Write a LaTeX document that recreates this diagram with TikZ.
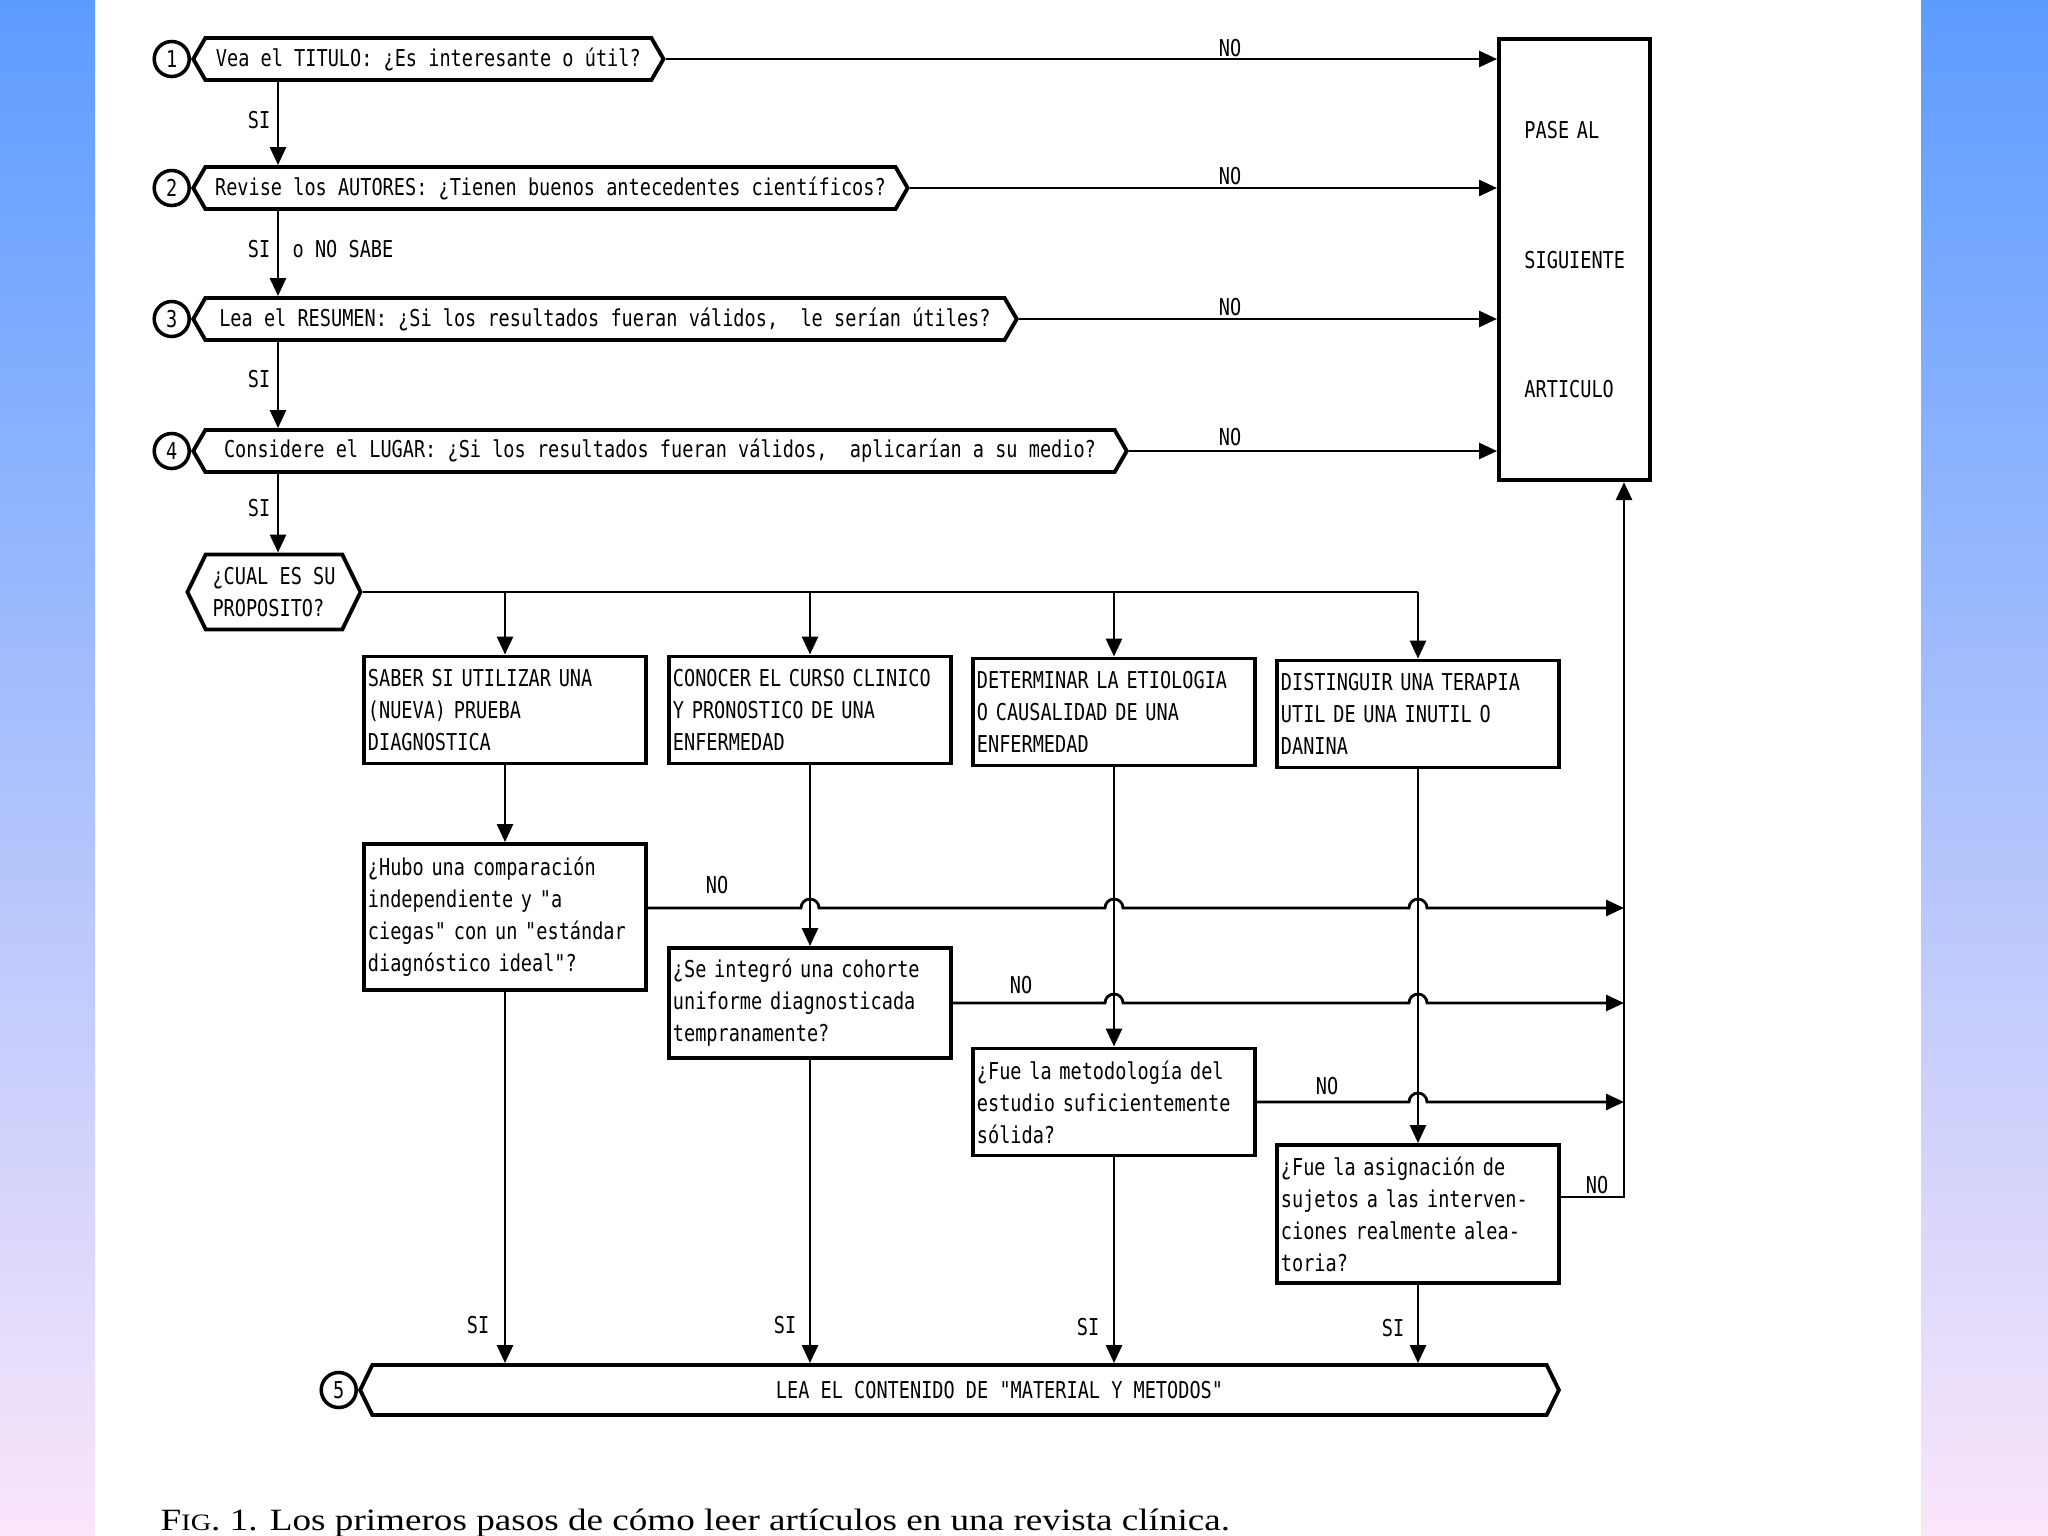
\documentclass[tikz,border=0pt]{standalone}
\usepackage{fontspec}
\newfontfamily\dotfont[FakeStretch=0.8]{DejaVu Sans Mono}
\newfontfamily\capfont[FakeStretch=1.2]{Liberation Serif}
\usetikzlibrary{positioning,calc,arrows.meta,shapes.symbols}

\definecolor{bandtop}{HTML}{5C9CFF}
\definecolor{bandmid}{HTML}{A8BCFF}
\definecolor{bandbot}{HTML}{FAE6FA}

\tikzset{
    dot/.style={font=\dotfont\fontsize{6.6}{9.1}\selectfont},
    hexa/.style={dot, draw, line width=1.1pt, shape=signal, signal to=west and east,
        signal pointer angle=120, minimum height=0.42cm, inner sep=1pt, anchor=west},
    num/.style={dot, draw, circle, line width=1pt, minimum size=0.35cm, inner sep=0pt},
    caja/.style={dot, draw, line width=1.1pt, rectangle, text width=2.74cm,
        align=left, inner xsep=0.04cm, inner ysep=0pt},
    flecha/.style={line width=0.8pt, -{Triangle[length=0.18cm,width=0.16cm]}},
    linea/.style={line width=0.8pt}
}

\begin{document}
\begin{tikzpicture}[x=0.01cm,y=-0.01cm]
    % Background
    \useasboundingbox (0,0) rectangle (2048,1536);
    \fill[white] (0,0) rectangle (2048,1536);
    \shade[top color=bandtop, middle color=bandmid, bottom color=bandbot] (0,0) rectangle (95,1536);
    \shade[top color=bandtop, middle color=bandmid, bottom color=bandbot] (1921,0) rectangle (2048,1536);
    % First steps
    \node[hexa, minimum width=4.70cm] (h1) at (191,59) {Vea el TITULO: ¿Es interesante o útil?};
    \node[hexa, minimum width=7.14cm] (h2) at (191,188) {Revise los AUTORES: ¿Tienen buenos antecedentes científicos?};
    \node[hexa, minimum width=8.23cm] (h3) at (191,319) {Lea el RESUMEN: ¿Si los resultados fueran válidos,\ \ le serían útiles?};
    \node[hexa, minimum width=9.33cm] (h4) at (191,451) {Considere el LUGAR: ¿Si los resultados fueran válidos,\ \ aplicarían a su medio?};
    \node[num, left=0pt of h1.west] (n1) {1};
    \node[num, left=0pt of h2.west] (n2) {2};
    \node[num, left=0pt of h3.west] (n3) {3};
    \node[num, left=0pt of h4.west] (n4) {4};
    % Next article
    \node[dot, draw, line width=1.1pt, anchor=north west, minimum width=1.51cm, minimum height=4.41cm,
        text width=1.0cm, inner xsep=0.255cm, align=left] (pase) at (1497,37)
        {PASE AL\\[27.8pt]SIGUIENTE\\[27.8pt]ARTICULO};
    \foreach \h in {h1,h2,h3,h4}
        \draw[flecha] (\h.east) -- (\h.east -| pase.west);
    \node[dot] (no1) at (1230,48) {NO};
    \node[dot] (no2) at (1230,176) {NO};
    \node[dot] (no3) at (1230,307) {NO};
    \node[dot] (no4) at (1230,437) {NO};
    % Purpose
    \node[hexa, signal pointer angle=128, minimum width=1.73cm, minimum height=0.75cm,
        align=left, anchor=center] (cual) at (274,592) {¿CUAL ES SU\\PROPOSITO?};
    \coordinate (trunk) at (278,0);
    \draw[flecha] (h1.south -| trunk) -- (h2.north -| trunk);
    \draw[flecha] (h2.south -| trunk) -- (h3.north -| trunk);
    \draw[flecha] (h3.south -| trunk) -- (h4.north -| trunk);
    \draw[flecha] (h4.south -| trunk) -- (cual.north -| trunk);
    \node[dot] (si1) at (259,120) {SI};
    \node[dot] (si2) at (259,249) {SI};
    \node[dot] (nosabe) at (343,249) {o NO SABE};
    \node[dot] (si3) at (259,379) {SI};
    \node[dot] (si4) at (259,508) {SI};
    % Purposes
    \node[caja, minimum height=1.07cm] (bA) at (505,710) {SABER SI UTILIZAR UNA\\(NUEVA) PRUEBA\\DIAGNOSTICA};
    \node[caja, minimum height=1.07cm] (bB) at (810,710) {CONOCER EL CURSO CLINICO\\Y PRONOSTICO DE UNA\\ENFERMEDAD};
    \node[caja, minimum height=1.07cm] (bC) at (1114,712) {DETERMINAR LA ETIOLOGIA\\O CAUSALIDAD DE UNA\\ENFERMEDAD};
    \node[caja, minimum height=1.07cm] (bD) at (1418,714) {DISTINGUIR UNA TERAPIA\\UTIL DE UNA INUTIL O\\DANINA};
    \draw[linea] (cual.east) -- (cual.east -| bD.north);
    \foreach \b in {bA,bB,bC,bD}
        \draw[flecha] (cual.east -| \b.north) -- (\b.north);
    % Questions
    \node[caja, minimum height=1.46cm] (hA) at (505,917) {¿Hubo una comparación\\independiente y "a\\ciegas" con un "estándar\\diagnóstico ideal"?};
    \node[caja, minimum height=1.10cm] (hB) at (810,1003) {¿Se integró una cohorte\\uniforme diagnosticada\\tempranamente?};
    \node[caja, minimum height=1.07cm] (hC) at (1114,1102) {¿Fue la metodología del\\estudio suficientemente\\sólida?};
    \node[caja, minimum height=1.38cm] (hD) at (1418,1214) {¿Fue la asignación de\\sujetos a las interven-\\ciones realmente alea-\\toria?};
    \foreach \b/\q in {bA/hA,bB/hB,bC/hC,bD/hD}
        \draw[flecha] (\b.south) -- (\q.north);
    % NO answers
    \coordinate (colx) at (1624,0);
    \coordinate (nA) at ([yshift=0.09cm]hA.east);
    \coordinate (nB) at (hB.east);
    \coordinate (nC) at (hC.east);
    \coordinate (nD) at ([yshift=0.17cm]hD.east);
    \draw[flecha] (nA) -- ($(nA -| bB.south)+(-9,0)$) arc[start angle=180,end angle=0,radius=0.09cm]
        -- ($(nA -| bC.south)+(-9,0)$) arc[start angle=180,end angle=0,radius=0.09cm]
        -- ($(nA -| bD.south)+(-9,0)$) arc[start angle=180,end angle=0,radius=0.09cm]
        -- (nA -| colx);
    \draw[flecha] (nB) -- ($(nB -| bC.south)+(-9,0)$) arc[start angle=180,end angle=0,radius=0.09cm]
        -- ($(nB -| bD.south)+(-9,0)$) arc[start angle=180,end angle=0,radius=0.09cm]
        -- (nB -| colx);
    \draw[flecha] (nC) -- ($(nC -| bD.south)+(-9,0)$) arc[start angle=180,end angle=0,radius=0.09cm]
        -- (nC -| colx);
    \draw[flecha] (nD) -- (nD -| colx) -- (colx |- pase.south);
    \node[dot] (noA) at (717,885) {NO};
    \node[dot] (noB) at (1021,985) {NO};
    \node[dot] (noC) at (1327,1086) {NO};
    \node[dot] (noD) at (1597,1185) {NO};
    % Material y metodos
    \node[hexa, signal pointer angle=128, minimum width=11.98cm, minimum height=0.50cm] (bar) at (358,1390)
        {\hspace*{0.8cm}LEA EL CONTENIDO DE "MATERIAL Y METODOS"};
    \node[num, left=0pt of bar.west] (n5) {5};
    \foreach \q in {hA,hB,hC,hD}
        \draw[flecha] (\q.south) -- (\q.south |- bar.north);
    \node[dot] (siA) at (478,1325) {SI};
    \node[dot] (siB) at (785,1325) {SI};
    \node[dot] (siC) at (1088,1327) {SI};
    \node[dot] (siD) at (1393,1328) {SI};
    % Caption
    \node[font=\capfont\fontsize{8.8}{10}\selectfont, anchor=base west, inner sep=0pt] (cap) at (160,1530)
        {F{\fontsize{6.7}{8}\selectfont IG}. 1. Los primeros pasos de cómo leer artículos en una revista clínica.};
\end{tikzpicture}
\end{document}
